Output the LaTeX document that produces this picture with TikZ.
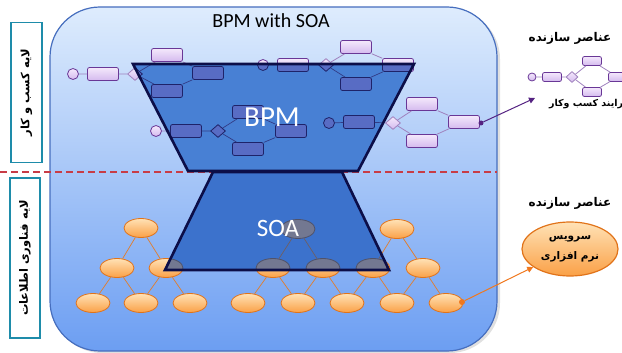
\documentclass[tikz,border=0pt]{standalone}
\usepackage{fontspec}
\setmainfont{Carlito}
\newfontfamily\fa[Script=Arabic]{DejaVu Sans}
\TeXXeTstate=1
\usetikzlibrary{shapes.geometric,arrows.meta}
\definecolor{frameblue}{RGB}{70,110,190}
\definecolor{bgtop}{RGB}{222,236,253}
\definecolor{bgbot}{RGB}{108,158,242}
\definecolor{lavtop}{RGB}{244,232,252}
\definecolor{lavbot}{RGB}{212,186,238}
\definecolor{lavdraw}{RGB}{105,55,150}
\definecolor{lavline}{RGB}{160,130,190}
\definecolor{drkfill}{RGB}{88,108,196}
\definecolor{drkdraw}{RGB}{30,35,105}
\definecolor{drkline}{RGB}{50,60,135}
\definecolor{ortop}{RGB}{255,226,182}
\definecolor{orbot}{RGB}{250,160,70}
\definecolor{ordraw}{RGB}{225,115,25}
\definecolor{orline}{RGB}{225,125,45}
\definecolor{gyfill}{RGB}{115,120,145}
\definecolor{gydraw}{RGB}{80,82,105}
\definecolor{gyline}{RGB}{110,95,100}
\definecolor{trapA}{RGB}{72,128,212}
\definecolor{trapB}{RGB}{60,114,204}
\definecolor{trapdraw}{RGB}{12,14,72}
\definecolor{tealbox}{RGB}{30,140,170}
\definecolor{dashred}{RGB}{200,60,70}
\definecolor{arrpurple}{RGB}{85,35,130}
\definecolor{arrorange}{RGB}{240,120,30}

\newcommand\bpmflows[1]{%
  \node[bpmdot]  (#1a1) at (73,74) {};
  \node[bpmbox]  (#1a2) at (103,74) {};
  \node[bpmgate] (#1a3) at (135,74) {};
  \node[bpmbox]  (#1a4) at (167,55) {};
  \node[bpmbox]  (#1a5) at (167,91) {};
  \node[bpmbox]  (#1a6) at (208,73) {};
  \draw[bpmline] (#1a1)--(#1a2) (#1a2)--(#1a3) (#1a3)--(#1a4) (#1a3)--(#1a5) (#1a4)--(#1a6) (#1a5)--(#1a6);
  \node[bpmdot]  (#1b1) at (263,65) {};
  \node[bpmbox]  (#1b2) at (293,65) {};
  \node[bpmgate] (#1b3) at (326,65) {};
  \node[bpmbox]  (#1b4) at (356,47) {};
  \node[bpmbox]  (#1b5) at (356,84) {};
  \node[bpmbox]  (#1b6) at (398,65) {};
  \draw[bpmline] (#1b1)--(#1b2) (#1b2)--(#1b3) (#1b3)--(#1b4) (#1b3)--(#1b5) (#1b4)--(#1b6) (#1b5)--(#1b6);
  \node[bpmdot]  (#1c1) at (156,131) {};
  \node[bpmbox]  (#1c2) at (186,131) {};
  \node[bpmgate] (#1c3) at (218,131) {};
  \node[bpmbox]  (#1c4) at (248,112) {};
  \node[bpmbox]  (#1c5) at (248,149) {};
  \node[bpmbox]  (#1c6) at (291,131) {};
  \draw[bpmline] (#1c1)--(#1c2) (#1c2)--(#1c3) (#1c3)--(#1c4) (#1c3)--(#1c5) (#1c4)--(#1c6) (#1c5)--(#1c6);
  \node[bpmdot]  (#1d1) at (329,123) {};
  \node[bpmbox]  (#1d2) at (359,122) {};
  \node[bpmgate] (#1d3) at (393,123) {};
  \node[bpmbox]  (#1d4) at (422,104) {};
  \node[bpmbox]  (#1d5) at (422,141) {};
  \node[bpmbox]  (#1d6) at (464,122) {};
  \draw[bpmline] (#1d1)--(#1d2) (#1d2)--(#1d3) (#1d3)--(#1d4) (#1d3)--(#1d5) (#1d4)--(#1d6) (#1d5)--(#1d6);
}

\newcommand\soatrees[1]{%
  \node[svc] (#1t1) at (141,228) {};
  \node[svc] (#1m1) at (117,268) {};
  \node[svc] (#1m2) at (166,268) {};
  \node[svc] (#1b1) at (93,303) {};
  \node[svc] (#1b2) at (141,303) {};
  \node[svc] (#1b3) at (190,303) {};
  \draw[svcline] (#1t1)--(#1m1) (#1t1)--(#1m2) (#1m1)--(#1b1) (#1m1)--(#1b2) (#1m2)--(#1b2) (#1m2)--(#1b3);
  \node[svc] (#1r1) at (298,229) {};
  \node[svc] (#1r2) at (397,229) {};
  \node[svc] (#1n1) at (273,268) {};
  \node[svc] (#1n2) at (323,268) {};
  \node[svc] (#1n3) at (373,268) {};
  \node[svc] (#1n4) at (423,268) {};
  \node[svc] (#1e1) at (248,303) {};
  \node[svc] (#1e2) at (298,303) {};
  \node[svc] (#1e3) at (347,303) {};
  \node[svc] (#1e4) at (397,303) {};
  \node[svc] (#1e5) at (446,303) {};
  \draw[svcline] (#1r1)--(#1n1) (#1r1)--(#1n2) (#1r2)--(#1n3) (#1r2)--(#1n4)
    (#1n1)--(#1e1) (#1n1)--(#1e2) (#1n2)--(#1e2) (#1n2)--(#1e3)
    (#1n3)--(#1e3) (#1n3)--(#1e4) (#1n4)--(#1e4) (#1n4)--(#1e5);
}

\begin{document}
\begin{tikzpicture}[x=1pt,y=-1pt,
  bpmbox/.style={rectangle, rounded corners=2pt, minimum width=31pt, minimum height=13pt, inner sep=0pt,
    draw=lavdraw, line width=0.8pt, top color=lavtop, bottom color=lavbot},
  bpmdot/.style={circle, minimum size=11pt, inner sep=0pt, draw=lavdraw, line width=0.8pt, top color=lavtop, bottom color=lavbot},
  bpmgate/.style={diamond, minimum width=15pt, minimum height=13pt, inner sep=0pt, draw=lavline, line width=0.8pt, top color=lavtop, bottom color=lavbot},
  bpmline/.style={draw=lavline, line width=0.8pt},
  svc/.style={ellipse, minimum width=34pt, minimum height=19pt, inner sep=0pt, draw=ordraw, line width=0.8pt, top color=ortop, bottom color=orbot},
  svcline/.style={draw=orline, line width=0.7pt},
  trapline/.style={draw=trapdraw, line width=2.6pt, line join=miter},
  sidebox/.style={draw=tealbox, line width=1.8pt, fill=white, rotate=90, inner sep=0pt},
  fatext/.style={font=\fa\bfseries, text=black},
]
\useasboundingbox (0,0) rectangle (622,353);

% main panel
\fill[black!35, opacity=0.35, rounded corners=50pt] (52,9) rectangle (500,353);
\path[draw=frameblue, line width=1.2pt, rounded corners=50pt, top color=bgtop, bottom color=bgbot] (50,7) rectangle (497,351);

% layer separator
\coordinate (sepL) at (0,172);
\coordinate (sepR) at (497,172);
\draw[dashred, line width=1.2pt, dash pattern=on 7pt off 4pt] (sepL) -- (sepR);

% process flows and services
\bpmflows{p}
\soatrees{s}

% hourglass fills
\fill[trapA] (133,64) -- (414,64) -- (358,171) -- (188,171) -- cycle;
\fill[trapB] (213,172) -- (342,172) -- (389,270) -- (165,270) -- cycle;

% parts seen through the hourglass
\begin{scope}[
  bpmbox/.style={rectangle, rounded corners=2pt, minimum width=31pt, minimum height=13pt, inner sep=0pt, draw=drkdraw, line width=0.8pt, fill=drkfill},
  bpmdot/.style={circle, minimum size=11pt, inner sep=0pt, draw=drkdraw, line width=0.8pt, fill=drkfill},
  bpmgate/.style={diamond, minimum width=15pt, minimum height=13pt, inner sep=0pt, draw=drkdraw, line width=0.8pt, fill=drkfill},
  bpmline/.style={draw=drkline, line width=0.7pt}]
  \clip (133,64) -- (414,64) -- (358,171) -- (188,171) -- cycle;
  \bpmflows{q}
\end{scope}
\begin{scope}[
  svc/.style={ellipse, minimum width=34pt, minimum height=19pt, inner sep=0pt, draw=gydraw, line width=0.8pt, fill=gyfill},
  svcline/.style={draw=gyline, line width=0.7pt}]
  \clip (213,172) -- (342,172) -- (389,270) -- (165,270) -- cycle;
  \soatrees{g}
\end{scope}

% hourglass borders
\draw[trapline] (133,64) -- (414,64) -- (358,171) -- (188,171) -- cycle;
\draw[trapline] (213,172) -- (342,172) -- (389,270) -- (165,270) -- cycle;

\node[anchor=base, text=white, inner sep=0pt] (bpmlabel) at (272,127) {\fontsize{29}{32}\selectfont BPM};
\node[anchor=base, text=white, inner sep=0pt] (soalabel) at (278,236) {\fontsize{25}{28}\selectfont SOA};

% title
\node[anchor=base, inner sep=0pt, text=black] (title) at (271,28) {\fontsize{20}{24}\selectfont BPM with SOA};

% side labels
\node[sidebox, minimum width=140pt, minimum height=31pt] (layerbiz) at (26.5,92.5)
  {\fa\bfseries\fontsize{11.5}{13}\selectfont\beginR لایه کسب و کار\endR};
\node[sidebox, minimum width=160pt, minimum height=30pt] (layerit) at (25,258)
  {\fa\bfseries\fontsize{11.5}{13}\selectfont\beginR لایه فناوری اطلاعات\endR};

% legend: process
\node[fatext] (legtitleA) at (570,38) {\fontsize{12}{14}\selectfont\beginR عناصر سازنده\endR};
\node[bpmdot, minimum size=8pt] (l1) at (532,77) {};
\node[bpmbox, minimum width=19pt, minimum height=9pt] (l2) at (552,77) {};
\node[bpmgate, minimum width=12pt, minimum height=11pt] (l3) at (572,77) {};
\node[bpmbox, minimum width=19pt, minimum height=9pt] (l4) at (592,61) {};
\node[bpmbox, minimum width=19pt, minimum height=9pt] (l5) at (592,92) {};
\node[bpmbox, minimum width=19pt, minimum height=9pt] (l6) at (618,77) {};
\draw[bpmline] (l1)--(l2) (l2)--(l3) (l3)--(l4) (l3)--(l5) (l4)--(l6) (l5)--(l6);
\node[fatext, anchor=east, inner sep=0pt] (legcapA) at (630,104) {\fontsize{9.5}{11}\selectfont\beginR فرایند کسب وکار\endR};

% legend: service
\node[fatext] (legtitleB) at (570,203) {\fontsize{12}{14}\selectfont\beginR عناصر سازنده\endR};
\node[ellipse, minimum width=96pt, minimum height=54pt, inner sep=0pt, draw=ordraw, line width=1.2pt,
  top color=ortop, bottom color=orbot, align=center, font=\fa\bfseries] (svclegend) at (570,249)
  {\fontsize{10.5}{12}\selectfont\beginR سرویس\endR\\[8pt]\fontsize{10.5}{12}\selectfont\beginR نرم افزاری\endR};

% arrows
\node[circle, fill=arrpurple, minimum size=5pt, inner sep=0pt] (pdot) at (481,123) {};
\coordinate (parrowend) at (535,98);
\draw[arrpurple, line width=1pt, -{Triangle[length=6pt,width=6pt]}] (pdot) -- (parrowend);
\node[circle, fill=arrorange, minimum size=6pt, inner sep=0pt] (odot) at (462,302) {};
\draw[arrorange, line width=1pt, -{Triangle[length=6pt,width=6pt]}] (odot) -- (svclegend);
\end{tikzpicture}
\end{document}
